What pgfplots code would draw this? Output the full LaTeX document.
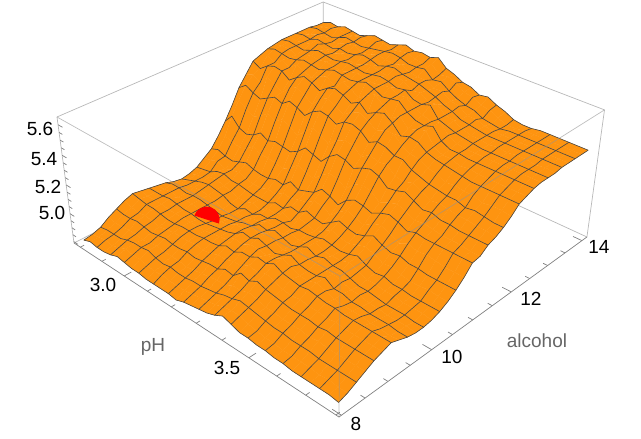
\documentclass[border=0pt]{standalone}
\usepackage{fontspec}
\setmainfont{Liberation Sans}
\usepackage{pgfplots}
\usepackage{pgfplotstable}
\pgfplotsset{compat=1.18}

\definecolor{surfc}{HTML}{FE9410}
\definecolor{meshc}{HTML}{454545}
\definecolor{boxc}{HTML}{B8B8B8}
\definecolor{axisc}{HTML}{808080}

% perspective of the box: fractions along pH, alcohol, quality to picture pixels
\tikzset{declare function={
    px(\u,\v,\w)=(74+205*\u+305*\v-20.6*\w)/(1-0.177*\u+0.172*\v-0.063*\w);
    py(\u,\v,\w)=(243+100.2*\u-107.4*\v-133.4*\w)/(1-0.177*\u+0.172*\v-0.063*\w);}}

% quality on a 33 x 33 grid: pH 2.79 to 3.79 along a line, alcohol 14.03 down to 8.07 line by line
\pgfplotstableread[row sep=\\]{
q\\
5.53\\5.55\\5.54\\5.56\\5.55\\5.54\\5.56\\5.58\\5.57\\5.56\\5.58\\5.60\\5.58\\5.59\\5.58\\5.60\\5.55\\5.53\\5.50\\5.49\\5.46\\5.47\\5.44\\5.42\\5.39\\5.38\\5.38\\5.39\\5.39\\5.39\\5.39\\5.39\\5.39\\
5.53\\5.54\\5.55\\5.57\\5.55\\5.56\\5.57\\5.56\\5.58\\5.59\\5.57\\5.58\\5.59\\5.57\\5.56\\5.58\\5.53\\5.54\\5.52\\5.48\\5.47\\5.44\\5.43\\5.40\\5.38\\5.38\\5.39\\5.39\\5.39\\5.39\\5.39\\5.39\\5.39\\
5.54\\5.55\\5.54\\5.53\\5.55\\5.57\\5.56\\5.55\\5.56\\5.57\\5.58\\5.59\\5.58\\5.56\\5.56\\5.57\\5.52\\5.53\\5.49\\5.46\\5.44\\5.43\\5.40\\5.39\\5.38\\5.39\\5.39\\5.39\\5.39\\5.39\\5.39\\5.39\\5.39\\
5.54\\5.53\\5.55\\5.56\\5.54\\5.55\\5.57\\5.58\\5.55\\5.56\\5.58\\5.57\\5.56\\5.58\\5.55\\5.54\\5.54\\5.51\\5.51\\5.47\\5.46\\5.42\\5.42\\5.40\\5.39\\5.39\\5.39\\5.39\\5.39\\5.39\\5.39\\5.39\\5.39\\
5.54\\5.55\\5.54\\5.56\\5.55\\5.54\\5.56\\5.55\\5.56\\5.58\\5.57\\5.55\\5.57\\5.58\\5.56\\5.55\\5.54\\5.52\\5.50\\5.47\\5.45\\5.42\\5.41\\5.40\\5.39\\5.39\\5.39\\5.39\\5.39\\5.39\\5.39\\5.39\\5.39\\
5.54\\5.53\\5.54\\5.55\\5.57\\5.55\\5.55\\5.57\\5.55\\5.54\\5.56\\5.58\\5.56\\5.55\\5.57\\5.56\\5.52\\5.53\\5.49\\5.50\\5.45\\5.44\\5.41\\5.39\\5.39\\5.38\\5.39\\5.38\\5.39\\5.39\\5.38\\5.39\\5.38\\
5.54\\5.55\\5.54\\5.53\\5.55\\5.57\\5.56\\5.55\\5.56\\5.57\\5.56\\5.55\\5.56\\5.57\\5.56\\5.54\\5.55\\5.51\\5.50\\5.52\\5.45\\5.43\\5.41\\5.40\\5.39\\5.38\\5.38\\5.38\\5.38\\5.38\\5.38\\5.38\\5.38\\
5.53\\5.54\\5.54\\5.52\\5.54\\5.56\\5.55\\5.56\\5.55\\5.54\\5.56\\5.57\\5.56\\5.55\\5.56\\5.57\\5.54\\5.55\\5.50\\5.48\\5.46\\5.48\\5.42\\5.39\\5.38\\5.38\\5.38\\5.38\\5.38\\5.38\\5.38\\5.38\\5.38\\
5.52\\5.54\\5.53\\5.52\\5.53\\5.55\\5.54\\5.53\\5.55\\5.57\\5.56\\5.55\\5.56\\5.58\\5.56\\5.53\\5.54\\5.55\\5.50\\5.47\\5.46\\5.48\\5.41\\5.38\\5.38\\5.37\\5.37\\5.37\\5.37\\5.37\\5.37\\5.37\\5.37\\
5.50\\5.52\\5.49\\5.53\\5.50\\5.54\\5.52\\5.50\\5.53\\5.55\\5.51\\5.56\\5.54\\5.50\\5.54\\5.57\\5.52\\5.46\\5.50\\5.44\\5.46\\5.48\\5.40\\5.37\\5.37\\5.35\\5.36\\5.35\\5.35\\5.35\\5.35\\5.35\\5.35\\
5.48\\5.45\\5.49\\5.51\\5.50\\5.46\\5.50\\5.53\\5.51\\5.48\\5.52\\5.54\\5.52\\5.49\\5.52\\5.47\\5.50\\5.52\\5.48\\5.42\\5.44\\5.43\\5.39\\5.37\\5.36\\5.35\\5.34\\5.33\\5.33\\5.33\\5.33\\5.33\\5.33\\
5.41\\5.43\\5.40\\5.46\\5.43\\5.40\\5.45\\5.48\\5.45\\5.41\\5.47\\5.50\\5.47\\5.44\\5.48\\5.50\\5.47\\5.43\\5.46\\5.46\\5.41\\5.38\\5.37\\5.34\\5.33\\5.30\\5.31\\5.30\\5.30\\5.28\\5.29\\5.29\\5.28\\
5.34\\5.38\\5.35\\5.33\\5.36\\5.39\\5.37\\5.41\\5.39\\5.36\\5.41\\5.44\\5.43\\5.40\\5.44\\5.45\\5.43\\5.38\\5.41\\5.40\\5.37\\5.37\\5.33\\5.31\\5.29\\5.28\\5.27\\5.27\\5.25\\5.26\\5.25\\5.24\\5.24\\
5.24\\5.30\\5.26\\5.23\\5.26\\5.30\\5.27\\5.31\\5.28\\5.25\\5.30\\5.35\\5.33\\5.29\\5.34\\5.37\\5.36\\5.31\\5.35\\5.33\\5.34\\5.29\\5.28\\5.30\\5.27\\5.24\\5.25\\5.24\\5.23\\5.23\\5.22\\5.22\\5.21\\
5.15\\5.21\\5.15\\5.13\\5.15\\5.19\\5.16\\5.18\\5.17\\5.16\\5.19\\5.24\\5.22\\5.20\\5.26\\5.30\\5.29\\5.26\\5.29\\5.31\\5.29\\5.24\\5.25\\5.27\\5.24\\5.21\\5.22\\5.20\\5.20\\5.19\\5.19\\5.19\\5.19\\
5.07\\5.09\\5.08\\5.06\\5.08\\5.12\\5.09\\5.09\\5.08\\5.07\\5.10\\5.15\\5.12\\5.11\\5.16\\5.20\\5.19\\5.15\\5.21\\5.23\\5.22\\5.17\\5.20\\5.22\\5.20\\5.17\\5.18\\5.17\\5.16\\5.16\\5.16\\5.15\\5.15\\
5.00\\5.02\\5.00\\4.99\\5.01\\5.03\\5.01\\5.00\\5.00\\5.02\\5.01\\5.06\\5.03\\5.05\\5.07\\5.12\\5.10\\5.07\\5.13\\5.16\\5.15\\5.13\\5.16\\5.18\\5.16\\5.13\\5.15\\5.14\\5.14\\5.14\\5.14\\5.14\\5.14\\
4.96\\4.97\\4.99\\4.96\\4.98\\4.99\\4.97\\4.96\\4.96\\4.98\\4.97\\5.01\\5.00\\5.02\\5.03\\5.07\\5.06\\5.03\\5.08\\5.12\\5.10\\5.08\\5.12\\5.14\\5.11\\5.08\\5.11\\5.09\\5.10\\5.09\\5.08\\5.08\\5.08\\
4.92\\4.93\\4.94\\4.97\\4.98\\4.96\\4.96\\4.95\\4.94\\4.94\\4.94\\4.97\\4.96\\5.00\\4.99\\5.03\\5.01\\5.00\\5.04\\5.08\\5.06\\5.05\\5.07\\5.10\\5.07\\5.05\\5.06\\5.04\\5.04\\5.03\\5.03\\5.03\\5.03\\
4.90\\4.92\\4.93\\4.96\\4.97\\4.95\\4.94\\4.92\\4.92\\4.94\\4.92\\4.96\\4.95\\4.99\\4.96\\5.01\\5.00\\4.98\\5.01\\5.05\\5.03\\5.02\\5.04\\5.06\\5.04\\5.01\\5.02\\5.00\\4.99\\4.99\\5.00\\4.99\\4.99\\
4.89\\4.91\\4.93\\4.95\\4.96\\4.95\\4.94\\4.91\\4.90\\4.93\\4.92\\4.95\\4.95\\4.98\\4.98\\4.97\\4.99\\4.99\\5.00\\5.02\\5.01\\5.00\\5.01\\5.03\\5.00\\4.98\\4.99\\4.97\\4.97\\4.96\\4.96\\4.96\\4.96\\
4.90\\4.93\\4.93\\4.94\\4.95\\4.94\\4.93\\4.90\\4.90\\4.93\\4.93\\4.95\\4.96\\4.99\\4.98\\4.96\\5.00\\4.98\\5.00\\5.03\\5.00\\5.00\\5.00\\5.02\\4.99\\4.97\\4.97\\4.96\\4.96\\4.95\\4.95\\4.95\\4.94\\
4.92\\4.94\\4.94\\4.93\\4.94\\4.94\\4.93\\4.92\\4.91\\4.92\\4.93\\4.95\\4.96\\5.00\\4.99\\5.02\\5.00\\4.98\\5.00\\5.03\\5.00\\5.02\\5.00\\5.00\\4.98\\4.96\\4.96\\4.95\\4.94\\4.94\\4.94\\4.93\\4.93\\
4.93\\4.93\\4.94\\4.93\\4.94\\4.94\\4.93\\4.91\\4.91\\4.93\\4.94\\4.97\\4.97\\5.02\\5.00\\5.03\\5.01\\4.98\\5.00\\5.04\\5.01\\5.02\\5.00\\5.01\\4.99\\4.97\\4.97\\4.95\\4.95\\4.94\\4.94\\4.94\\4.93\\
4.94\\4.94\\4.94\\4.95\\4.94\\4.93\\4.93\\4.92\\4.92\\4.93\\4.94\\4.95\\4.97\\5.01\\5.00\\5.03\\5.01\\4.99\\5.01\\5.04\\5.01\\5.00\\5.00\\5.02\\4.98\\4.98\\4.96\\4.96\\4.95\\4.95\\4.95\\4.94\\4.94\\
4.95\\4.94\\4.94\\4.94\\4.93\\4.93\\4.93\\4.93\\4.93\\4.93\\4.94\\4.95\\4.96\\5.00\\4.99\\5.02\\5.02\\5.01\\5.02\\5.05\\5.03\\5.00\\5.00\\5.02\\5.00\\4.98\\4.97\\4.97\\4.97\\4.96\\4.96\\4.95\\4.96\\
4.96\\4.95\\4.94\\4.94\\4.93\\4.92\\4.92\\4.93\\4.93\\4.93\\4.94\\4.94\\4.95\\4.98\\4.97\\5.00\\5.00\\5.03\\5.02\\5.05\\5.02\\5.01\\5.00\\5.01\\5.00\\4.99\\4.99\\4.98\\4.98\\4.98\\4.98\\4.98\\4.98\\
4.94\\4.92\\4.91\\4.92\\4.91\\4.90\\4.91\\4.92\\4.92\\4.92\\4.93\\4.92\\4.93\\4.95\\4.95\\4.97\\4.97\\5.01\\4.99\\5.02\\5.00\\4.98\\4.97\\4.98\\4.97\\4.97\\4.96\\4.97\\4.96\\4.96\\4.96\\4.96\\4.96\\
4.91\\4.90\\4.90\\4.91\\4.90\\4.89\\4.90\\4.91\\4.90\\4.90\\4.91\\4.90\\4.91\\4.92\\4.92\\4.95\\4.94\\4.99\\4.97\\5.00\\4.98\\4.97\\4.96\\4.95\\4.95\\4.95\\4.94\\4.95\\4.94\\4.94\\4.94\\4.94\\4.94\\
4.88\\4.87\\4.87\\4.88\\4.88\\4.87\\4.88\\4.89\\4.88\\4.88\\4.88\\4.87\\4.88\\4.89\\4.90\\4.91\\4.91\\4.94\\4.94\\4.96\\4.95\\4.93\\4.93\\4.92\\4.92\\4.92\\4.91\\4.92\\4.91\\4.91\\4.91\\4.91\\4.91\\
4.84\\4.85\\4.85\\4.85\\4.87\\4.88\\4.88\\4.89\\4.87\\4.86\\4.87\\4.86\\4.86\\4.87\\4.87\\4.88\\4.89\\4.91\\4.92\\4.94\\4.93\\4.92\\4.91\\4.90\\4.90\\4.89\\4.89\\4.89\\4.88\\4.88\\4.88\\4.88\\4.88\\
4.82\\4.83\\4.84\\4.83\\4.85\\4.87\\4.86\\4.86\\4.85\\4.84\\4.85\\4.84\\4.84\\4.84\\4.85\\4.86\\4.87\\4.88\\4.90\\4.91\\4.91\\4.89\\4.88\\4.87\\4.87\\4.86\\4.86\\4.86\\4.86\\4.85\\4.86\\4.85\\4.85\\
4.81\\4.83\\4.82\\4.82\\4.83\\4.85\\4.84\\4.83\\4.83\\4.82\\4.82\\4.82\\4.82\\4.81\\4.83\\4.84\\4.85\\4.86\\4.88\\4.91\\4.89\\4.87\\4.87\\4.86\\4.86\\4.85\\4.85\\4.84\\4.84\\4.84\\4.84\\4.84\\4.83\\
}\surfdata
\pgfplotstablecreatecol[create col/expr={px(0.02+0.96*(\pgfplotstablerow-33*floor((\pgfplotstablerow+0.5)/33))/32,0.98-0.96*floor((\pgfplotstablerow+0.5)/33)/32,(\thisrow{q}-4.79)/0.86)}]{X}\surfdata
\pgfplotstablecreatecol[create col/expr={py(0.02+0.96*(\pgfplotstablerow-33*floor((\pgfplotstablerow+0.5)/33))/32,0.98-0.96*floor((\pgfplotstablerow+0.5)/33)/32,(\thisrow{q}-4.79)/0.86)}]{Y}\surfdata

\pgfplotsset{
  /pgfplots/table/proj/.style={
    x expr={px((\thisrow{pH}-2.77)/1.04,(\thisrow{alcohol}-7.95)/6.2,(\thisrow{q}-4.79)/0.86)},
    y expr={py((\thisrow{pH}-2.77)/1.04,(\thisrow{alcohol}-7.95)/6.2,(\thisrow{q}-4.79)/0.86)}},
}
\tikzset{txt/.style={font=\fontsize{19}{22}\selectfont}}
\newcommand{\edge}[3]{\addplot[#1,no marks,line width=.7pt] table[proj,row sep=\\]{pH alcohol q\\#2\\#3\\};}
\pgfdeclareplotmark{halfdisk}{%
  \pgfpathmoveto{\pgfqpoint{-\pgfplotmarksize}{0pt}}%
  \pgfpatharc{180}{0}{\pgfplotmarksize}%
  \pgfpathclose\pgfusepathqfill}

\begin{document}
\begin{tikzpicture}
\begin{axis}[
  scale only axis, width=641pt, height=439pt,
  xmin=0, xmax=641, ymin=0, ymax=439, y dir=reverse,
  hide axis, clip=false,
  colormap={flatorange}{color(0)=(surfc) color(1)=(surfc)},
  point meta min=0, point meta max=1,
]
\path (axis cs:0,0) rectangle (axis cs:641,439);
% back of the box
\edge{boxc}{2.77 14.15 4.79}{2.77 14.15 5.65}
\edge{boxc}{2.77 7.95 5.65}{2.77 14.15 5.65}
\edge{boxc}{2.77 14.15 5.65}{3.81 14.15 5.65}
\edge{boxc}{2.77 7.95 4.79}{2.77 14.15 4.79}
\edge{boxc}{2.77 14.15 4.79}{3.81 14.15 4.79}
\edge{boxc}{3.81 14.15 4.79}{3.81 14.15 5.65}

\addplot[surf, shader=faceted, faceted color=surfc, line width=.2pt,
  point meta={0.5}, mesh/rows=33, mesh/cols=33] table[x=X,y=Y] {\surfdata};

% the single red point, half sunk in the surface
\addplot[only marks, mark=halfdisk, mark size=13pt, color=red, mark options={rotate=-18}]
  table[proj,row sep=\\]{pH alcohol q\\3.02 9.69 4.906\\};

% mesh: every second line of the grid, both ways
\addplot[meshc, line width=.6pt, no marks, unbounded coords=jump,
  x filter/.code={\ifodd\numexpr(\coordindex-16)/33\relax\def\pgfmathresult{nan}\fi}]
  table[x=X,y=Y] {\surfdata};
\pgfplotsinvokeforeach{0,2,4,6,8,10,12,14,16,18,20,22,24,26,28,30,32}{
  \addplot[meshc, line width=.6pt, no marks,
    x filter/.code={\ifnum\numexpr\coordindex-33*((\coordindex-16)/33)\relax=#1 \else\def\pgfmathresult{nan}\fi}]
    table[x=X,y=Y] {\surfdata};
}

% front of the box
\edge{boxc!80!black,opacity=.6}{2.77 7.95 5.65}{3.81 7.95 5.65}
\edge{boxc!80!black,opacity=.6}{3.81 7.95 5.65}{3.81 14.15 5.65}
\edge{boxc!80!black,opacity=.6}{3.81 7.95 5.65}{3.81 7.95 4.79}
\edge{boxc}{2.77 7.95 4.79}{2.77 7.95 5.65}
\edge{axisc}{2.77 7.95 4.79}{3.81 7.95 4.79}
\edge{axisc}{3.81 7.95 4.79}{3.81 14.15 4.79}

% ticks
\pgfplotsinvokeforeach{2.8,2.9,3.1,3.2,3.3,3.4,3.6,3.7,3.8}{
  \edge{axisc}{#1 7.95 4.79}{#1 8.03 4.79}}
\pgfplotsinvokeforeach{3.0,3.5}{
  \edge{axisc}{#1 7.95 4.79}{#1 8.1 4.79}}
\pgfplotsinvokeforeach{8.5,9,9.5,10.5,11,11.5,12.5,13,13.5}{
  \edge{axisc}{3.81 #1 4.79}{3.795 #1 4.79}}
\pgfplotsinvokeforeach{8,10,12,14}{
  \edge{axisc}{3.81 #1 4.79}{3.78 #1 4.79}}
\pgfplotsinvokeforeach{4.85,4.9,4.95,5.05,5.1,5.15,5.25,5.3,5.35,5.45,5.5,5.55}{
  \edge{axisc}{2.77 7.95 #1}{2.785 7.95 #1}}
\pgfplotsinvokeforeach{4.8,5.0,5.2,5.4,5.6}{
  \edge{axisc}{2.77 7.95 #1}{2.79 7.95 #1}}

% tick labels and axis labels
\node[txt] at (axis cs:40,129) {5.6};
\node[txt] at (axis cs:44,159) {5.4};
\node[txt] at (axis cs:48,187) {5.2};
\node[txt] at (axis cs:52,213) {5.0};
\node[txt] at (axis cs:103,285) {3.0};
\node[txt] at (axis cs:227,368) {3.5};
\node[txt] at (axis cs:452,357) {10};
\node[txt] at (axis cs:531,299) {12};
\node[txt] at (axis cs:599,247) {14};
\node[txt] at (axis cs:356,424) {8};
\node[txt,text=black!60] at (axis cs:153,347) {pH};
\node[txt,text=black!60] at (axis cs:537,341) {alcohol};
\end{axis}
\end{tikzpicture}
\end{document}
